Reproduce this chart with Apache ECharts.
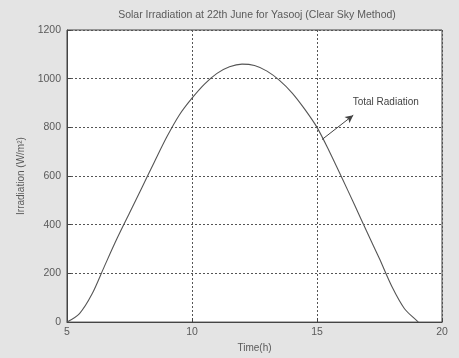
<!DOCTYPE html>
<html>
<head>
<meta charset="utf-8">
<script src="https://cdn.jsdelivr.net/npm/echarts@6/dist/echarts.min.js"></script>
<style>
html,body{margin:0;padding:0;background:#e4e4e4;}
#c{width:459px;height:358px;}
</style>
</head>
<body>
<div id="c"></div>
<script>
const titleText = 'Solar Irradiation at 22th June for Yasooj (Clear Sky Method)';
const xName = 'Time(h)';
const yName = 'Irradiation (W/m²)';
const seriesName = 'Total Radiation';
const times = [5, 5.5, 6, 6.5, 7, 7.5, 8, 8.5, 9, 9.5, 10, 10.5, 11, 11.5, 12, 12.5, 13, 13.5, 14, 14.5, 15, 15.5, 16, 16.5, 17, 17.5, 18, 18.5, 19, 19.05];
const irradiation = [0, 35, 115, 230, 343, 448, 553, 659, 762, 852, 920, 978, 1022, 1049, 1060, 1054, 1031, 993, 942, 876, 800, 700, 592, 482, 370, 260, 145, 55, 5, 0];
const arrowFrom = [15.2, 750];
const arrowTo = [16.45, 850];
const labelAt = [17.75, 905];

const chart = echarts.init(document.getElementById('c'), null, {renderer: 'canvas'});
const txt = '#5a5a5a';
const font = 'Liberation Sans';
chart.setOption({
  backgroundColor: '#e4e4e4',
  animation: false,
  title: {
    text: titleText,
    left: 252, top: 5, textAlign: 'center',
    textStyle: {fontSize: 10.5, fontWeight: 'normal', color: txt, fontFamily: font}
  },
  grid: {
    left: 67, right: 17, top: 30, bottom: 32,
    show: true, backgroundColor: '#ffffff', borderColor: '#444', borderWidth: 1
  },
  xAxis: {
    type: 'value', min: 5, max: 20, interval: 5,
    name: xName, nameLocation: 'middle', nameGap: 17,
    nameTextStyle: {fontSize: 10, color: txt, fontFamily: font},
    axisLine: {show: true, lineStyle: {color: '#444', width: 1}},
    axisTick: {show: true, inside: true, length: 4, lineStyle: {color: '#444'}},
    axisLabel: {fontSize: 10.5, color: txt, fontFamily: font, margin: 5},
    splitLine: {show: true, lineStyle: {type: [2, 2], color: '#555', width: 1}}
  },
  yAxis: {
    type: 'value', min: 0, max: 1200, interval: 200,
    name: yName, nameLocation: 'middle', nameGap: 38, nameRotate: 90,
    nameTextStyle: {fontSize: 10, color: txt, fontFamily: font},
    axisLine: {show: true, lineStyle: {color: '#444', width: 1}},
    axisTick: {show: true, inside: true, length: 4, lineStyle: {color: '#444'}},
    axisLabel: {fontSize: 10.5, color: txt, fontFamily: font, margin: 6, formatter: v => String(v)},
    splitLine: {show: true, lineStyle: {type: [2, 2], color: '#555', width: 1}}
  },
  series: [{
    name: seriesName,
    type: 'line',
    data: times.map((t, i) => [t, irradiation[i]]),
    smooth: 0.3,
    showSymbol: false,
    lineStyle: {color: '#555', width: 1.1},
    markLine: {
      silent: true,
      symbol: ['none', 'arrow'],
      symbolSize: [6, 8],
      label: {show: false},
      lineStyle: {type: 'solid', color: '#444', width: 1},
      data: [[{coord: arrowFrom}, {coord: arrowTo}]]
    },
    markPoint: {
      silent: true,
      symbol: 'circle', symbolSize: 0,
      label: {show: true, position: 'inside', formatter: seriesName, fontSize: 10, color: '#444', fontFamily: font},
      data: [{coord: labelAt}]
    }
  }]
});
</script>
</body>
</html>
